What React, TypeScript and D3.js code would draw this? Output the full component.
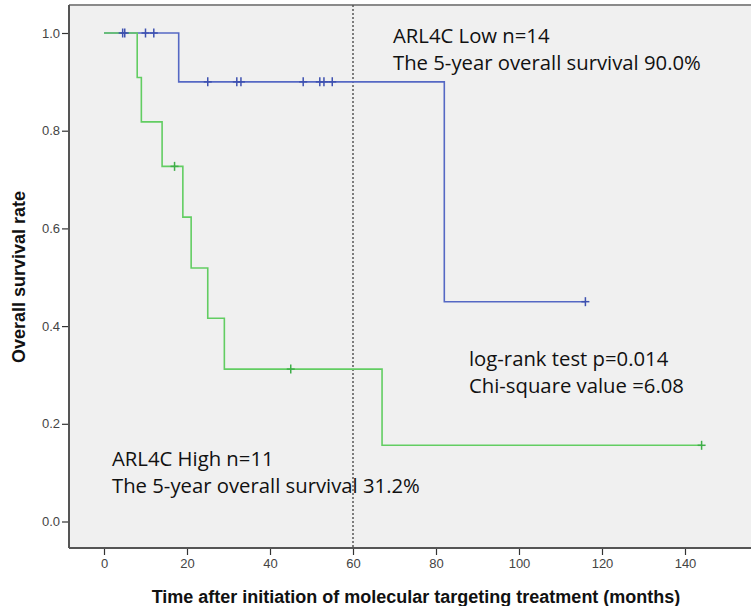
import React, { useEffect, useRef } from "react";
import * as d3 from "d3";

// ARL4C Low (n=14): step times / survival
const lowStepTimes = [0, 18, 82];
const lowStepSurv = [1.0, 0.9, 0.45];
const lowCensorTimes = [4.5, 5, 10, 12, 25, 32, 33, 48, 52, 53, 55, 116];

// ARL4C High (n=11)
const highStepTimes = [0, 8, 9, 14, 19, 21, 25, 29, 67];
const highStepSurv = [1.0, 0.909, 0.818, 0.727, 0.623, 0.519, 0.416, 0.312, 0.156];
const highCensorTimes = [17, 45, 144];

const xTicks = [0, 20, 40, 60, 80, 100, 120, 140];
const yTicks = [0, 0.2, 0.4, 0.6, 0.8, 1.0];
const cutoffMonth = 60;

const lowLabels = ["ARL4C Low n=14", "The 5-year overall survival 90.0%"];
const highLabels = ["ARL4C High n=11", "The 5-year overall survival 31.2%"];
const testLabels = ["log-rank test p=0.014", "Chi-square value =6.08"];

const W = 751;
const H = 606;

const App = () => {
  const ref = useRef<SVGSVGElement>(null);

  useEffect(() => {
    if (!ref.current) return;
    const svg = d3.select(ref.current);
    svg.selectAll("*").remove();

    const box = { left: 69, top: 5, right: 760, bottom: 548 };

    const x = d3.scaleLinear().domain([0, 140]).range([104, 685]);
    const y = d3.scaleLinear().domain([0, 1]).range([521.5, 33]);

    // plot background
    svg
      .append("rect")
      .attr("x", box.left)
      .attr("y", box.top)
      .attr("width", box.right - box.left)
      .attr("height", box.bottom - box.top)
      .attr("fill", "#f0f0f0")
      .attr("stroke", "none");

    svg
      .append("line")
      .attr("x1", box.left)
      .attr("x2", box.right)
      .attr("y1", box.top)
      .attr("y2", box.top)
      .attr("stroke", "#8a8a8a")
      .attr("stroke-width", 2);

    // axes
    const yAxis = svg
      .append("g")
      .attr("transform", `translate(${box.left},0)`)
      .call(d3.axisLeft(y).tickValues(yTicks).tickFormat(d3.format(".1f")).tickSize(7).tickPadding(2));
    yAxis.select(".domain").remove();
    yAxis.selectAll("line").attr("stroke", "#333").attr("stroke-width", 1.2);
    yAxis
      .selectAll("text")
      .attr("fill", "#444")
      .attr("font-family", "Liberation Sans, Arial, sans-serif")
      .attr("font-size", 13);

    const xAxis = svg
      .append("g")
      .attr("transform", `translate(0,${box.bottom})`)
      .call(d3.axisBottom(x).tickValues(xTicks).tickFormat(d3.format("d")).tickSize(7).tickPadding(4));
    xAxis.select(".domain").remove();
    xAxis.selectAll("line").attr("stroke", "#333").attr("stroke-width", 1.2);
    xAxis
      .selectAll("text")
      .attr("fill", "#444")
      .attr("font-family", "Liberation Sans, Arial, sans-serif")
      .attr("font-size", 13);

    svg
      .append("line")
      .attr("x1", box.left)
      .attr("x2", box.left)
      .attr("y1", box.top)
      .attr("y2", box.bottom)
      .attr("stroke", "#555")
      .attr("stroke-width", 2);
    svg
      .append("line")
      .attr("x1", box.left)
      .attr("x2", box.right)
      .attr("y1", box.bottom)
      .attr("y2", box.bottom)
      .attr("stroke", "#555")
      .attr("stroke-width", 2);

    // 5-year reference line
    svg
      .append("line")
      .attr("x1", x(cutoffMonth))
      .attr("x2", x(cutoffMonth))
      .attr("y1", box.top)
      .attr("y2", box.bottom)
      .attr("stroke", "#555")
      .attr("stroke-width", 1.5)
      .attr("stroke-dasharray", "2,2");

    const groups = [
      {
        times: lowStepTimes,
        surv: lowStepSurv,
        censor: lowCensorTimes,
        line: "#5568c4",
        mark: "#3e51b0",
      },
      {
        times: highStepTimes,
        surv: highStepSurv,
        censor: highCensorTimes,
        line: "#62cd62",
        mark: "#3fae48",
      },
    ];

    const line = d3
      .line<[number, number]>()
      .x((d) => x(d[0]))
      .y((d) => y(d[1]))
      .curve(d3.curveStepAfter);

    const survAt = (times: number[], surv: number[], t: number) => {
      let s = surv[0];
      times.forEach((tt, i) => {
        if (tt <= t) s = surv[i];
      });
      return s;
    };

    groups.forEach((g) => {
      const pts: [number, number][] = g.times.map((t, i) => [t, g.surv[i]]);
      const last = d3.max(g.censor) as number;
      pts.push([last, g.surv[g.surv.length - 1]]);
      svg
        .append("path")
        .datum(pts)
        .attr("d", line)
        .attr("fill", "none")
        .attr("stroke", g.line)
        .attr("stroke-width", 1.6);
    });

    groups.forEach((g) => {
      g.censor.forEach((t) => {
        const cx = x(t);
        const cy = y(survAt(g.times, g.surv, t));
        svg
          .append("line")
          .attr("x1", cx)
          .attr("x2", cx)
          .attr("y1", cy - 4.5)
          .attr("y2", cy + 4.5)
          .attr("stroke", g.mark)
          .attr("stroke-width", 1.5);
        svg
          .append("line")
          .attr("x1", cx - 4)
          .attr("x2", cx + 4)
          .attr("y1", cy)
          .attr("y2", cy)
          .attr("stroke", g.mark)
          .attr("stroke-width", 1.5);
      });
    });

    // annotations
    const addLines = (lines: string[], lx: number, ly: number) => {
      lines.forEach((s, i) => {
        svg
          .append("text")
          .attr("x", lx)
          .attr("y", ly + i * 27)
          .attr("font-family", "'Open Sans', 'Noto Sans', sans-serif")
          .attr("font-size", 20.3)
          .attr("fill", "#111")
          .text(s);
      });
    };
    addLines(lowLabels, 393, 43);
    addLines(testLabels, 469, 366);
    addLines(highLabels, 112, 466);

    // axis titles
    svg
      .append("text")
      .attr("transform", `translate(19,277) rotate(-90)`)
      .attr("text-anchor", "middle")
      .attr("dominant-baseline", "central")
      .attr("font-family", "Liberation Sans, Arial, sans-serif")
      .attr("font-weight", "bold")
      .attr("font-size", 18)
      .attr("fill", "#111")
      .text("Overall survival rate");

    svg
      .append("text")
      .attr("x", 416)
      .attr("y", 603)
      .attr("text-anchor", "middle")
      .attr("font-family", "Liberation Sans, Arial, sans-serif")
      .attr("font-weight", "bold")
      .attr("font-size", 18)
      .attr("fill", "#111")
      .text("Time after initiation of molecular targeting treatment (months)");
  }, []);

  return (
    <svg
      ref={ref}
      width={W}
      height={H}
      style={{ position: "absolute", left: 0, top: 0, background: "#fff" }}
    ></svg>
  );
};

export default App;
